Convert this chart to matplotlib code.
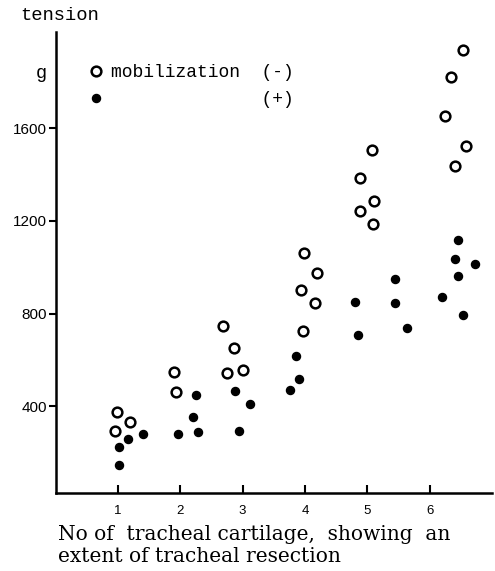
import matplotlib
matplotlib.use('Agg')
from matplotlib import pyplot as plt

# open circles: mobilization (-)
x_minus = [0.98, 1.19, 0.95, 1.90, 1.925, 2.68, 2.86, 2.75, 3.01,
           3.99, 4.19, 3.94, 4.16, 3.97, 5.07, 4.89, 5.10, 4.88, 5.09,
           6.53, 6.35, 6.24, 6.58, 6.41]
y_minus = [376, 333, 294, 546, 460, 746, 652, 543, 556,
           1060, 977, 902, 847, 726, 1507, 1387, 1287, 1243, 1187,
           1938, 1823, 1653, 1524, 1437]

# filled circles: mobilization (+)
x_plus = [1.165, 1.02, 1.405, 1.02, 2.25, 2.21, 1.97, 2.29, 2.88, 3.115, 2.94,
          3.86, 3.91, 3.76, 4.81, 4.85, 5.44, 5.45, 5.63,
          6.45, 6.41, 6.73, 6.45, 6.19, 6.53]
y_plus = [258, 222, 280, 146, 447, 355, 280, 287, 467, 409, 294,
          617, 517, 470, 851, 707, 948, 847, 736,
          1118, 1034, 1014, 962, 873, 794]

xticks = [1, 2, 3, 4, 5, 6]
yticks = [400, 800, 1200, 1600]

fig = plt.figure(figsize=(4.95, 5.71), dpi=100)
ax = fig.add_axes([55.6 / 495, 1 - 493 / 571, 436.4 / 495, 461 / 571])

ax.plot(x_minus, y_minus, linestyle='none', marker='o', markersize=7,
        markerfacecolor='white', markeredgecolor='black', markeredgewidth=1.8,
        label='mobilization  (-)')
ax.plot(x_plus, y_plus, linestyle='none', marker='o', markersize=5.8,
        color='black', label='              (+)')

ax.set_xlim(0, 7)
ax.set_ylim(25, 2016)
ax.set_xticks(xticks)
ax.set_yticks(yticks)
ax.set_xticklabels([str(v) for v in xticks], fontfamily='Liberation Sans', fontsize=9.5)
ax.set_yticklabels([str(v) for v in yticks], fontfamily='Liberation Sans', fontsize=11)
ax.tick_params(axis='x', direction='in', length=6, width=1.5, pad=8.5)
ax.tick_params(axis='y', direction='out', length=5, width=1.5, pad=1)

for s in ['top', 'right']:
    ax.spines[s].set_visible(False)
for s in ['left', 'bottom']:
    ax.spines[s].set_linewidth(1.8)

ax.legend(loc='upper left', bbox_to_anchor=(0.077, 0.93), frameon=False,
          borderpad=0, borderaxespad=0, handlelength=0.8, handletextpad=0.4,
          labelspacing=0.55, prop={'family': 'Liberation Mono', 'size': 13})

fig.text(20 / 495, 1 - 15 / 571, 'tension', fontfamily='Liberation Mono',
         fontsize=13.5, ha='left', va='center')
fig.text(41 / 495, 1 - 74 / 571, 'g', fontfamily='Liberation Mono',
         fontsize=13.5, ha='center', va='center')

fig.text(58 / 495, 1 - 534 / 571, 'No of  tracheal cartilage,  showing  an',
         fontfamily='DejaVu Serif', fontsize=14.5, ha='left', va='center')
fig.text(58 / 495, 1 - 556 / 571, 'extent of tracheal resection',
         fontfamily='DejaVu Serif', fontsize=14.5, ha='left', va='center')

plt.savefig('out.png', dpi=100)
